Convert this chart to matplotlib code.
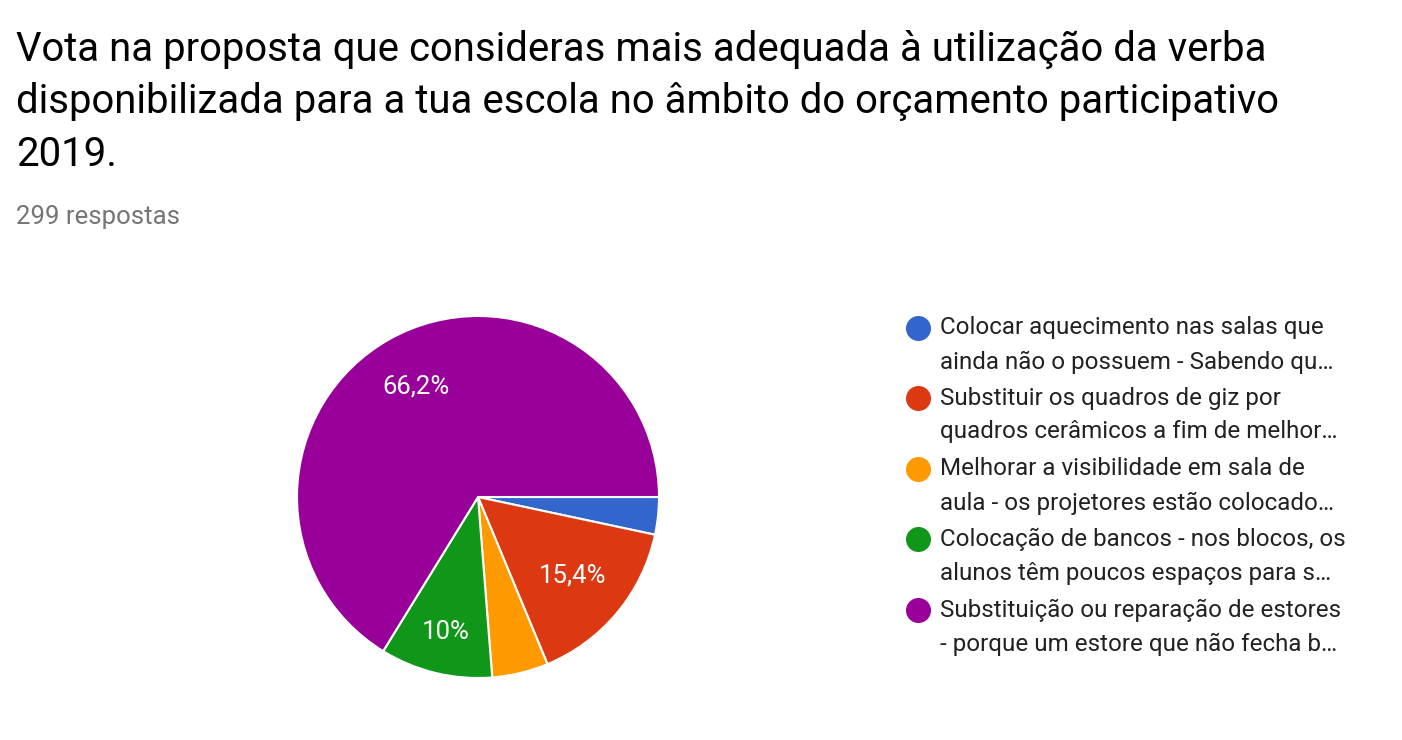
import numpy as np
import matplotlib.pyplot as plt
from matplotlib.lines import Line2D

plt.rcParams['font.family'] = ['Roboto', 'DejaVu Sans']

# Data (299 respostas)
labels = [
    "Colocar aquecimento nas salas que\nainda não o possuem - Sabendo qu…",
    "Substituir os quadros de giz por\nquadros cerâmicos a fim de melhor…",
    "Melhorar a visibilidade em sala de\naula - os projetores estão colocado…",
    "Colocação de bancos - nos blocos, os\nalunos têm poucos espaços para s…",
    "Substituição ou reparação de estores\n- porque um estore que não fecha b…",
]
counts = [10, 46, 15, 30, 198]
colors = ["#3366cc", "#dc3912", "#ff9900", "#109618", "#990099"]

W, H = 1402, 740
fig = plt.figure(figsize=(W / 100, H / 100), dpi=100)

# Title
fig.text(16 / W, 1 - 30 / H,
         "Vota na proposta que consideras mais adequada à utilização da verba\n"
         "disponibilizada para a tua escola no âmbito do orçamento participativo\n"
         "2019.",
         fontsize=28.9, color="#000000", va="top", ha="left", linespacing=1.43)
fig.text(16 / W, 1 - 217 / H, "299 respostas", fontsize=18.5, color="#757575",
         va="center", ha="left")

# Pie
cx, cy, r = 478, 497, 181
ax = fig.add_axes([(cx - r) / W, (H - cy - r) / H, 2 * r / W, 2 * r / H])


def fmt(p):
    if p < 6:
        return ""
    return f"{p:.1f}".rstrip("0").rstrip(".").replace(".", ",") + "%"


wedges, texts, autotexts = ax.pie(
    counts, colors=colors, startangle=0, counterclock=False,
    autopct=fmt, pctdistance=0.72,
    wedgeprops=dict(edgecolor="white", linewidth=1.5),
    textprops=dict(color="white", fontsize=18.5))

# nudge label distances a bit like the original
dist = [0.7, 0.68, 0.7, 0.77, 0.7]
for w, t, d in zip(wedges, autotexts, dist):
    a = np.deg2rad((w.theta1 + w.theta2) / 2)
    t.set_position((d * np.cos(a), d * np.sin(a)))

ax.set_xlim(-1, 1)
ax.set_ylim(-1, 1)
ax.set_aspect("equal")
ax.axis("off")

# Legend
ys = [328, 398, 469, 539, 610]
for lab, col, y in zip(labels, colors, ys):
    fig.add_artist(Line2D([918 / W], [1 - y / H], marker="o", markersize=17,
                          color=col, linestyle="none", transform=fig.transFigure))
    fig.text(940 / W, 1 - (y + 17) / H, lab, fontsize=17.4, color="#222222",
             va="center", ha="left", linespacing=1.6)

fig.savefig("out.png", dpi=100)
